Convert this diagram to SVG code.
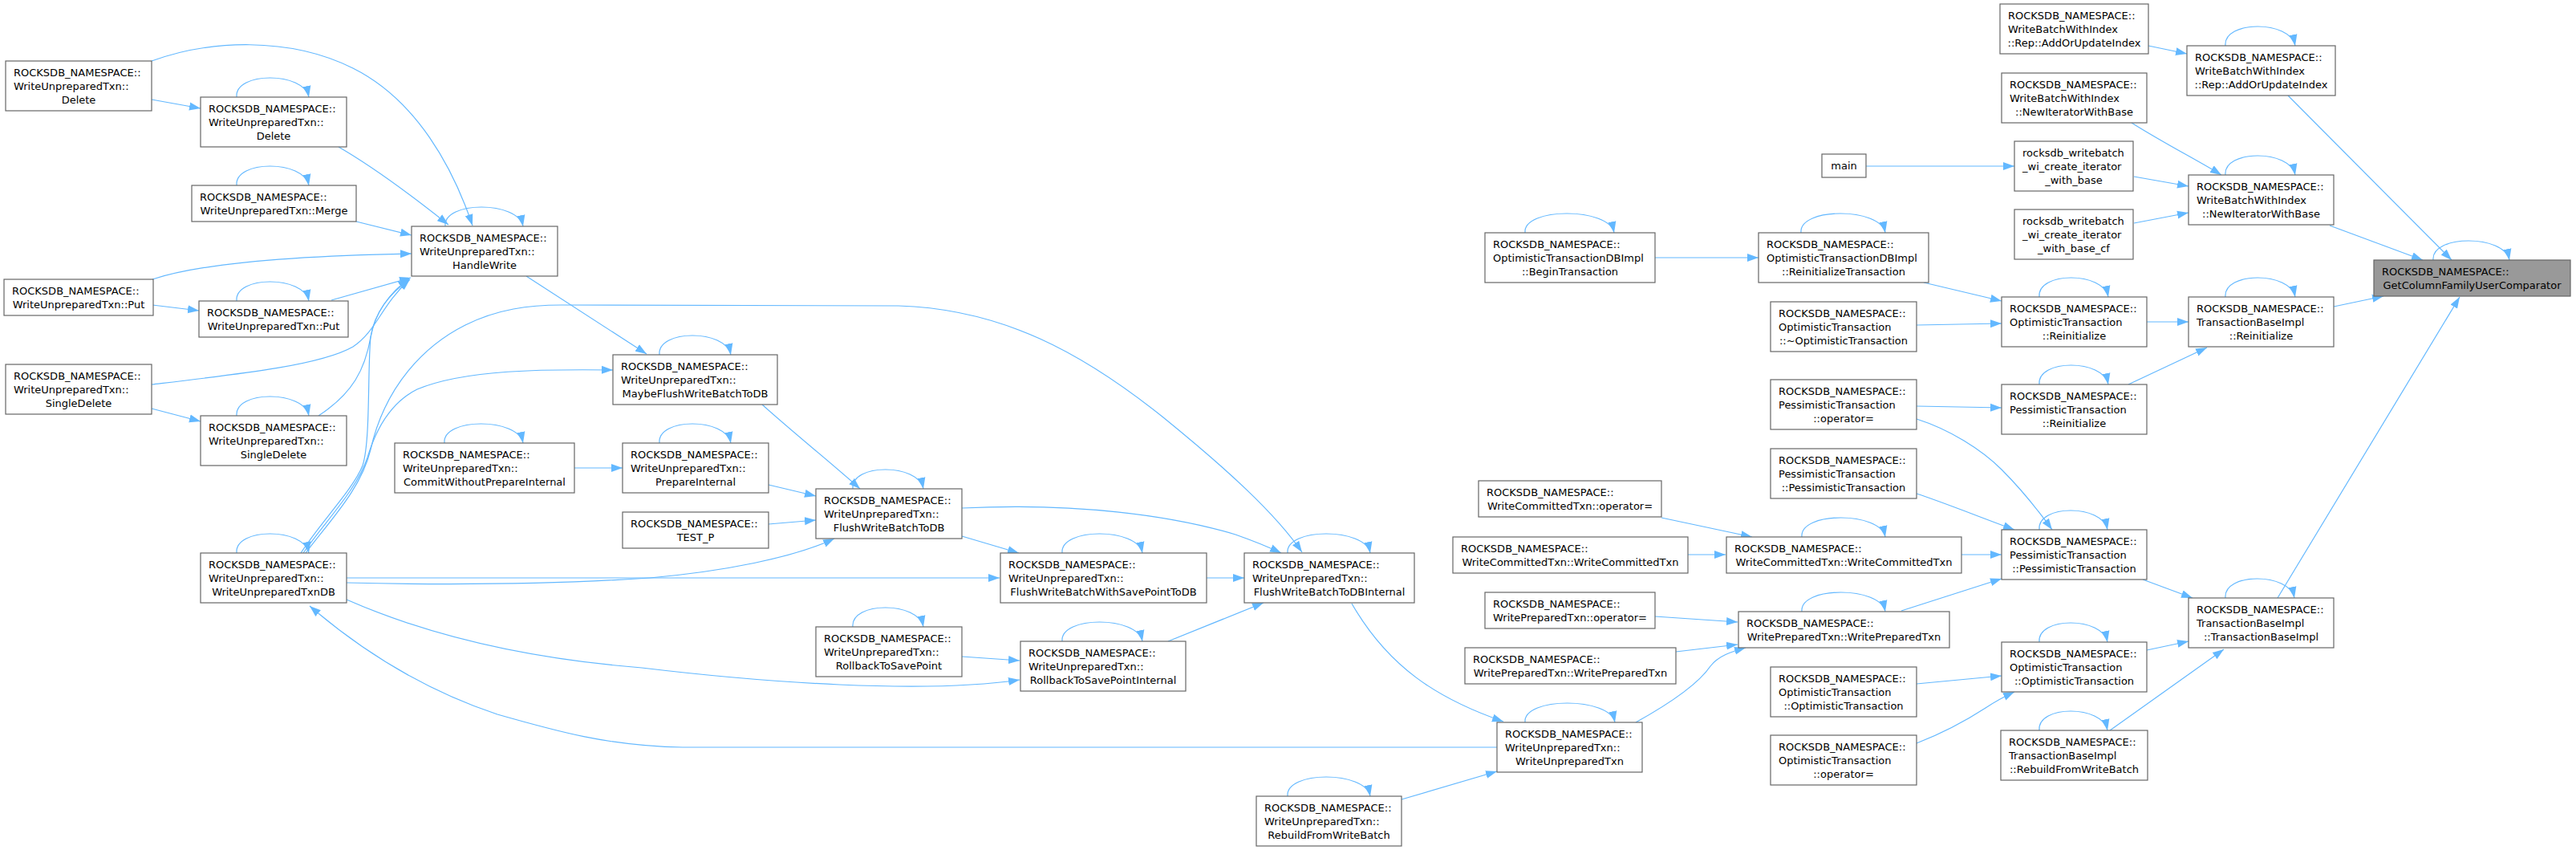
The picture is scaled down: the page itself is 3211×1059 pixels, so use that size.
<svg xmlns="http://www.w3.org/2000/svg" width="3211" height="1059" viewBox="0 0 3211 1059">
<defs>
<style>
.n rect{fill:#ffffff;stroke:#666666;stroke-width:1.2}
.n.hl rect{fill:#999999;stroke:#666666}
text{font-family:"DejaVu Sans","Liberation Sans",sans-serif;font-size:13px;fill:#000000}
.l{text-anchor:start}
.m{text-anchor:middle}
.e path{fill:none;stroke:#63b8ff;stroke-width:1.2;marker-end:url(#ah)}
</style>
<marker id="ah" markerUnits="userSpaceOnUse" viewBox="0 0 14 11" markerWidth="14" markerHeight="11" refX="14" refY="5.5" orient="auto">
<path d="M0,0.5 L14,5.5 L0,10.5 z" fill="#63b8ff"/>
</marker>
</defs>
<rect x="0" y="0" width="3211" height="1059" fill="#ffffff"/>

<g id="connectors" class="e">
<!-- self loops -->
<path d="M295,121 C292,89 379,89 385,121"/>
<path d="M295,231 C292,199 379,199 385,231"/>
<path d="M555,282 C552,250 646,250 652,282"/>
<path d="M295,375 C292,343 379,343 385,375"/>
<path d="M295,518 C292,486 379,486 385,518"/>
<path d="M295,689 C292,657 379,657 385,689"/>
<path d="M822,442 C819,410 905,410 911,442"/>
<path d="M554,552 C551,520 646,520 652,552"/>
<path d="M822,552 C819,520 905,520 911,552"/>
<path d="M1063,609 C1060,577 1145,577 1151,609"/>
<path d="M1324,689 C1321,657 1418,657 1424,689"/>
<path d="M1063,781 C1060,749 1145,749 1151,781"/>
<path d="M1324,799 C1321,767 1418,767 1424,799"/>
<path d="M1605,689 C1602,657 1702,657 1708,689"/>
<path d="M1605,992 C1602,960 1702,960 1708,992"/>
<path d="M1901,900 C1898,868 2007,868 2013,900"/>
<path d="M1901,290 C1898,258 2006,258 2012,290"/>
<path d="M2245,290 C2242,258 2344,258 2350,290"/>
<path d="M2246,669 C2243,637 2344,637 2350,669"/>
<path d="M2246,762 C2243,730 2344,730 2350,762"/>
<path d="M2542,370 C2539,338 2622,338 2628,370"/>
<path d="M2542,479 C2539,447 2622,447 2628,479"/>
<path d="M2542,660 C2539,628 2621,628 2627,660"/>
<path d="M2542,800 C2539,768 2621,768 2627,800"/>
<path d="M2542,910 C2539,878 2621,878 2627,910"/>
<path d="M2774,57 C2771,25 2855,25 2861,57"/>
<path d="M2774,218 C2771,186 2855,186 2861,218"/>
<path d="M2774,370 C2771,338 2855,338 2861,370"/>
<path d="M2774,745 C2771,713 2854,713 2860,745"/>
<path d="M3033,324 C3030,292 3122,292 3128,324"/>
<!-- left cluster -->
<path d="M189,124 L250,135"/>
<path d="M189,76 C260,50 360,45 440,85 C520,125 565,210 589,281"/>
<path d="M422,183 C460,205 515,245 559,280"/>
<path d="M444,276 L513,293"/>
<path d="M190,348 C260,325 400,318 513,316"/>
<path d="M190,380 L248,387"/>
<path d="M413,374 L512,346"/>
<path d="M189,479 C300,466 400,455 440,432 C470,412 475,380 511,348"/>
<path d="M189,509 L250,525"/>
<path d="M397,518 C440,490 455,460 462,420 C468,390 482,368 511,348"/>
<path d="M375,689 C400,650 440,610 452,580 C462,550 458,460 462,420 C466,390 488,363 510,347"/>
<path d="M378,689 C405,650 445,610 458,570 C470,530 490,500 520,485 C580,460 680,460 764,461"/>
<path d="M381,689 C410,650 450,610 462,560 C480,480 530,430 580,405 C620,385 660,380 700,380 L1120,381 C1250,385 1350,440 1450,520 C1530,585 1590,640 1623,688"/>
<path d="M656,344 L806,441"/>
<path d="M950,504 C990,540 1040,580 1072,609"/>
<path d="M958,604 L1017,618"/>
<path d="M958,653 L1017,648"/>
<path d="M716,583 L776,583"/>
<path d="M432,720 L1246,720"/>
<path d="M432,726 C600,730 720,726 810,720 C900,712 990,695 1040,671"/>
<path d="M432,747 C530,790 650,820 800,832 C950,850 1150,865 1271,847"/>
<path d="M1866,931 L851,931 C760,930 690,910 620,890 C530,860 450,810 386,755"/>
<path d="M1199,668 L1270,689"/>
<path d="M1199,633 C1340,626 1460,642 1540,666 C1560,673 1580,681 1597,689"/>
<path d="M1504,720 L1551,720"/>
<path d="M1199,818 L1271,823"/>
<path d="M1456,799 L1575,751"/>
<path d="M1685,752 C1730,830 1790,870 1874,899"/>
<path d="M1747,996 L1866,961"/>
<!-- middle / right cluster -->
<path d="M2039,900 C2075,880 2115,855 2132,830 C2142,817 2158,812 2176,807"/>
<path d="M2063,768 L2166,775"/>
<path d="M2089,812 L2166,803"/>
<path d="M2370,761 L2495,721"/>
<path d="M2071,645 L2184,669"/>
<path d="M2104,691 L2151,691"/>
<path d="M2445,691 L2495,691"/>
<path d="M2389,615 C2420,625 2470,645 2511,660"/>
<path d="M2389,522 C2430,535 2470,560 2495,585 C2520,610 2540,635 2558,660"/>
<path d="M2389,506 L2495,508"/>
<path d="M2671,722 L2733,745"/>
<path d="M2676,810 L2728,799"/>
<path d="M2389,852 L2495,842"/>
<path d="M2389,926 C2425,912 2455,895 2475,882 C2487,874 2498,868 2511,862"/>
<path d="M2630,910 L2772,809"/>
<path d="M2839,745 L3066,370"/>
<path d="M2678,57 L2726,67"/>
<path d="M2852,119 L3056,324"/>
<path d="M2657,153 C2700,180 2740,200 2769,218"/>
<path d="M2660,220 L2728,232"/>
<path d="M2660,278 L2728,265"/>
<path d="M2326,207 L2511,207"/>
<path d="M2904,281 L3020,324"/>
<path d="M2909,382 L2971,369"/>
<path d="M2676,401 L2728,401"/>
<path d="M2653,479 L2751,433"/>
<path d="M2398,352 L2495,375"/>
<path d="M2389,405 L2495,403"/>
<path d="M2063,321 L2192,321"/>
</g>

<g id="n_delete_o" class="n"><rect x="7" y="76" width="182" height="62"/><text class="l" x="17" y="95">ROCKSDB_NAMESPACE::</text><text class="l" x="17" y="112">WriteUnpreparedTxn::</text><text class="m" x="98" y="129">Delete</text></g>
<g id="n_delete_i" class="n"><rect x="250" y="121" width="182" height="62"/><text class="l" x="260" y="140">ROCKSDB_NAMESPACE::</text><text class="l" x="260" y="157">WriteUnpreparedTxn::</text><text class="m" x="341" y="174">Delete</text></g>
<g id="n_merge" class="n"><rect x="239" y="231" width="205" height="45"/><text class="l" x="249" y="250">ROCKSDB_NAMESPACE::</text><text class="m" x="341.5" y="267">WriteUnpreparedTxn::Merge</text></g>
<g id="n_handlewrite" class="n"><rect x="513" y="282" width="182" height="62"/><text class="l" x="523" y="301">ROCKSDB_NAMESPACE::</text><text class="l" x="523" y="318">WriteUnpreparedTxn::</text><text class="m" x="604" y="335">HandleWrite</text></g>
<g id="n_put_o" class="n"><rect x="5" y="348" width="186" height="45"/><text class="l" x="15" y="367">ROCKSDB_NAMESPACE::</text><text class="m" x="98" y="384">WriteUnpreparedTxn::Put</text></g>
<g id="n_put_i" class="n"><rect x="248" y="375" width="186" height="45"/><text class="l" x="258" y="394">ROCKSDB_NAMESPACE::</text><text class="m" x="341" y="411">WriteUnpreparedTxn::Put</text></g>
<g id="n_sd_o" class="n"><rect x="7" y="454" width="182" height="62"/><text class="l" x="17" y="473">ROCKSDB_NAMESPACE::</text><text class="l" x="17" y="490">WriteUnpreparedTxn::</text><text class="m" x="98" y="507">SingleDelete</text></g>
<g id="n_sd_i" class="n"><rect x="250" y="518" width="182" height="62"/><text class="l" x="260" y="537">ROCKSDB_NAMESPACE::</text><text class="l" x="260" y="554">WriteUnpreparedTxn::</text><text class="m" x="341" y="571">SingleDelete</text></g>
<g id="n_wutdb" class="n"><rect x="250" y="689" width="182" height="62"/><text class="l" x="260" y="708">ROCKSDB_NAMESPACE::</text><text class="l" x="260" y="725">WriteUnpreparedTxn::</text><text class="m" x="341" y="742">WriteUnpreparedTxnDB</text></g>
<g id="n_maybeflush" class="n"><rect x="764" y="442" width="205" height="62"/><text class="l" x="774" y="461">ROCKSDB_NAMESPACE::</text><text class="l" x="774" y="478">WriteUnpreparedTxn::</text><text class="m" x="866.5" y="495">MaybeFlushWriteBatchToDB</text></g>
<g id="n_cwpi" class="n"><rect x="492" y="552" width="224" height="62"/><text class="l" x="502" y="571">ROCKSDB_NAMESPACE::</text><text class="l" x="502" y="588">WriteUnpreparedTxn::</text><text class="m" x="604" y="605">CommitWithoutPrepareInternal</text></g>
<g id="n_prepare" class="n"><rect x="776" y="552" width="182" height="62"/><text class="l" x="786" y="571">ROCKSDB_NAMESPACE::</text><text class="l" x="786" y="588">WriteUnpreparedTxn::</text><text class="m" x="867" y="605">PrepareInternal</text></g>
<g id="n_testp" class="n"><rect x="776" y="638" width="182" height="45"/><text class="l" x="786" y="657">ROCKSDB_NAMESPACE::</text><text class="m" x="867" y="674">TEST_P</text></g>
<g id="n_fwbtdb" class="n"><rect x="1017" y="609" width="182" height="62"/><text class="l" x="1027" y="628">ROCKSDB_NAMESPACE::</text><text class="l" x="1027" y="645">WriteUnpreparedTxn::</text><text class="m" x="1108" y="662">FlushWriteBatchToDB</text></g>
<g id="n_fwbwsp" class="n"><rect x="1247" y="689" width="257" height="62"/><text class="l" x="1257" y="708">ROCKSDB_NAMESPACE::</text><text class="l" x="1257" y="725">WriteUnpreparedTxn::</text><text class="m" x="1375.5" y="742">FlushWriteBatchWithSavePointToDB</text></g>
<g id="n_fwbtdbi" class="n"><rect x="1551" y="689" width="212" height="62"/><text class="l" x="1561" y="708">ROCKSDB_NAMESPACE::</text><text class="l" x="1561" y="725">WriteUnpreparedTxn::</text><text class="m" x="1657" y="742">FlushWriteBatchToDBInternal</text></g>
<g id="n_rtsp" class="n"><rect x="1017" y="781" width="182" height="62"/><text class="l" x="1027" y="800">ROCKSDB_NAMESPACE::</text><text class="l" x="1027" y="817">WriteUnpreparedTxn::</text><text class="m" x="1108" y="834">RollbackToSavePoint</text></g>
<g id="n_rtspi" class="n"><rect x="1272" y="799" width="206" height="62"/><text class="l" x="1282" y="818">ROCKSDB_NAMESPACE::</text><text class="l" x="1282" y="835">WriteUnpreparedTxn::</text><text class="m" x="1375" y="852">RollbackToSavePointInternal</text></g>
<g id="n_rebuild_wu" class="n"><rect x="1566" y="992" width="181" height="62"/><text class="l" x="1576" y="1011">ROCKSDB_NAMESPACE::</text><text class="l" x="1576" y="1028">WriteUnpreparedTxn::</text><text class="m" x="1656.5" y="1045">RebuildFromWriteBatch</text></g>
<g id="n_wutxn" class="n"><rect x="1866" y="900" width="181" height="62"/><text class="l" x="1876" y="919">ROCKSDB_NAMESPACE::</text><text class="l" x="1876" y="936">WriteUnpreparedTxn::</text><text class="m" x="1956.5" y="953">WriteUnpreparedTxn</text></g>
<g id="n_begintx" class="n"><rect x="1851" y="290" width="212" height="62"/><text class="l" x="1861" y="309">ROCKSDB_NAMESPACE::</text><text class="l" x="1861" y="326">OptimisticTransactionDBImpl</text><text class="m" x="1957" y="343">::BeginTransaction</text></g>
<g id="n_reinittx" class="n"><rect x="2192" y="290" width="212" height="62"/><text class="l" x="2202" y="309">ROCKSDB_NAMESPACE::</text><text class="l" x="2202" y="326">OptimisticTransactionDBImpl</text><text class="m" x="2298" y="343">::ReinitializeTransaction</text></g>
<g id="n_ot_dtor" class="n"><rect x="2207" y="376" width="182" height="62"/><text class="l" x="2217" y="395">ROCKSDB_NAMESPACE::</text><text class="l" x="2217" y="412">OptimisticTransaction</text><text class="m" x="2298" y="429">::~OptimisticTransaction</text></g>
<g id="n_pt_op" class="n"><rect x="2207" y="473" width="182" height="62"/><text class="l" x="2217" y="492">ROCKSDB_NAMESPACE::</text><text class="l" x="2217" y="509">PessimisticTransaction</text><text class="m" x="2298" y="526">::operator=</text></g>
<g id="n_pt_ctor_l" class="n"><rect x="2207" y="559" width="182" height="62"/><text class="l" x="2217" y="578">ROCKSDB_NAMESPACE::</text><text class="l" x="2217" y="595">PessimisticTransaction</text><text class="m" x="2298" y="612">::PessimisticTransaction</text></g>
<g id="n_wct_op" class="n"><rect x="1843" y="599" width="228" height="45"/><text class="l" x="1853" y="618">ROCKSDB_NAMESPACE::</text><text class="m" x="1957" y="635">WriteCommittedTxn::operator=</text></g>
<g id="n_wct_l" class="n"><rect x="1811" y="669" width="293" height="45"/><text class="l" x="1821" y="688">ROCKSDB_NAMESPACE::</text><text class="m" x="1957.5" y="705">WriteCommittedTxn::WriteCommittedTxn</text></g>
<g id="n_wct_r" class="n"><rect x="2152" y="669" width="293" height="45"/><text class="l" x="2162" y="688">ROCKSDB_NAMESPACE::</text><text class="m" x="2298.5" y="705">WriteCommittedTxn::WriteCommittedTxn</text></g>
<g id="n_wpt_op" class="n"><rect x="1851" y="738" width="212" height="45"/><text class="l" x="1861" y="757">ROCKSDB_NAMESPACE::</text><text class="m" x="1957" y="774">WritePreparedTxn::operator=</text></g>
<g id="n_wpt_l" class="n"><rect x="1826" y="807" width="263" height="45"/><text class="l" x="1836" y="826">ROCKSDB_NAMESPACE::</text><text class="m" x="1957.5" y="843">WritePreparedTxn::WritePreparedTxn</text></g>
<g id="n_wpt_r" class="n"><rect x="2167" y="762" width="263" height="45"/><text class="l" x="2177" y="781">ROCKSDB_NAMESPACE::</text><text class="m" x="2298.5" y="798">WritePreparedTxn::WritePreparedTxn</text></g>
<g id="n_ot_ctor_l" class="n"><rect x="2207" y="831" width="182" height="62"/><text class="l" x="2217" y="850">ROCKSDB_NAMESPACE::</text><text class="l" x="2217" y="867">OptimisticTransaction</text><text class="m" x="2298" y="884">::OptimisticTransaction</text></g>
<g id="n_ot_op" class="n"><rect x="2207" y="916" width="182" height="62"/><text class="l" x="2217" y="935">ROCKSDB_NAMESPACE::</text><text class="l" x="2217" y="952">OptimisticTransaction</text><text class="m" x="2298" y="969">::operator=</text></g>
<g id="n_main" class="n"><rect x="2271" y="192" width="55" height="29"/><text class="m" x="2298.5" y="211">main</text></g>
<g id="n_aoui_l" class="n"><rect x="2493" y="5" width="185" height="62"/><text class="l" x="2503" y="24">ROCKSDB_NAMESPACE::</text><text class="l" x="2503" y="41">WriteBatchWithIndex</text><text class="m" x="2585.5" y="58">::Rep::AddOrUpdateIndex</text></g>
<g id="n_aoui_r" class="n"><rect x="2726" y="57" width="185" height="62"/><text class="l" x="2736" y="76">ROCKSDB_NAMESPACE::</text><text class="l" x="2736" y="93">WriteBatchWithIndex</text><text class="m" x="2818.5" y="110">::Rep::AddOrUpdateIndex</text></g>
<g id="n_niwb_l" class="n"><rect x="2495" y="91" width="181" height="62"/><text class="l" x="2505" y="110">ROCKSDB_NAMESPACE::</text><text class="l" x="2505" y="127">WriteBatchWithIndex</text><text class="m" x="2585.5" y="144">::NewIteratorWithBase</text></g>
<g id="n_wi_base" class="n"><rect x="2511" y="176" width="148" height="62"/><text class="l" x="2521" y="195">rocksdb_writebatch</text><text class="l" x="2521" y="212">_wi_create_iterator</text><text class="m" x="2585" y="229">_with_base</text></g>
<g id="n_wi_base_cf" class="n"><rect x="2511" y="261" width="148" height="62"/><text class="l" x="2521" y="280">rocksdb_writebatch</text><text class="l" x="2521" y="297">_wi_create_iterator</text><text class="m" x="2585" y="314">_with_base_cf</text></g>
<g id="n_niwb_r" class="n"><rect x="2728" y="218" width="181" height="62"/><text class="l" x="2738" y="237">ROCKSDB_NAMESPACE::</text><text class="l" x="2738" y="254">WriteBatchWithIndex</text><text class="m" x="2818.5" y="271">::NewIteratorWithBase</text></g>
<g id="n_gcfuc" class="n hl"><rect x="2959" y="324" width="245" height="45"/><text class="l" x="2969" y="343">ROCKSDB_NAMESPACE::</text><text class="m" x="3081.5" y="360">GetColumnFamilyUserComparator</text></g>
<g id="n_ot_reinit" class="n"><rect x="2495" y="370" width="181" height="62"/><text class="l" x="2505" y="389">ROCKSDB_NAMESPACE::</text><text class="l" x="2505" y="406">OptimisticTransaction</text><text class="m" x="2585.5" y="423">::Reinitialize</text></g>
<g id="n_tbi_reinit" class="n"><rect x="2728" y="370" width="181" height="62"/><text class="l" x="2738" y="389">ROCKSDB_NAMESPACE::</text><text class="l" x="2738" y="406">TransactionBaseImpl</text><text class="m" x="2818.5" y="423">::Reinitialize</text></g>
<g id="n_pt_reinit" class="n"><rect x="2495" y="479" width="181" height="62"/><text class="l" x="2505" y="498">ROCKSDB_NAMESPACE::</text><text class="l" x="2505" y="515">PessimisticTransaction</text><text class="m" x="2585.5" y="532">::Reinitialize</text></g>
<g id="n_pt_ctor_r" class="n"><rect x="2495" y="660" width="181" height="62"/><text class="l" x="2505" y="679">ROCKSDB_NAMESPACE::</text><text class="l" x="2505" y="696">PessimisticTransaction</text><text class="m" x="2585.5" y="713">::PessimisticTransaction</text></g>
<g id="n_tbi_ctor" class="n"><rect x="2728" y="745" width="181" height="62"/><text class="l" x="2738" y="764">ROCKSDB_NAMESPACE::</text><text class="l" x="2738" y="781">TransactionBaseImpl</text><text class="m" x="2818.5" y="798">::TransactionBaseImpl</text></g>
<g id="n_ot_ctor_r" class="n"><rect x="2495" y="800" width="181" height="62"/><text class="l" x="2505" y="819">ROCKSDB_NAMESPACE::</text><text class="l" x="2505" y="836">OptimisticTransaction</text><text class="m" x="2585.5" y="853">::OptimisticTransaction</text></g>
<g id="n_tbi_rebuild" class="n"><rect x="2494" y="910" width="183" height="62"/><text class="l" x="2504" y="929">ROCKSDB_NAMESPACE::</text><text class="l" x="2504" y="946">TransactionBaseImpl</text><text class="m" x="2585.5" y="963">::RebuildFromWriteBatch</text></g>
</svg>
